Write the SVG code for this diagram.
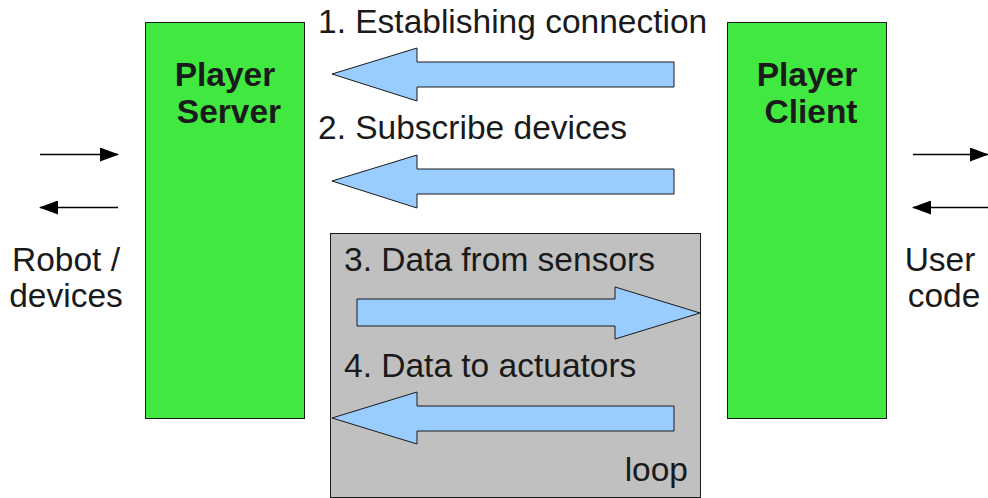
<svg xmlns="http://www.w3.org/2000/svg" width="988" height="498" viewBox="0 0 988 498">
<style>
.t{font-family:"Liberation Sans",Arial,sans-serif;font-size:33.5px;fill:#1a1a1a}
.b{font-weight:bold;text-anchor:middle}
.node{fill:#40e840;stroke:#1a1a1a;stroke-width:1}
.big{fill:#99ccff;stroke:#1a1a1a;stroke-width:1}
.ln{stroke:#000;stroke-width:1.3;fill:none}
</style>
<defs>
<marker id="ah" markerWidth="20" markerHeight="14" refX="18" refY="7" orient="auto" markerUnits="userSpaceOnUse">
<path d="M0,0 L19,7 L0,14 Z" fill="#000"/>
</marker>
</defs>
<rect x="0" y="0" width="988" height="498" fill="#fff"/>
<g id="loop-box">
<rect x="330.5" y="233.5" width="370" height="264" fill="#c0c0c0" stroke="#1a1a1a"/>
<text class="t" x="688" y="481" text-anchor="end">loop</text>
</g>
<g id="player-server">
<rect class="node" x="145.5" y="22.5" width="159" height="396"/>
<text class="t b" x="225" y="86">Player</text>
<text class="t b" x="229" y="123">Server</text>
</g>
<g id="player-client">
<rect class="node" x="727.5" y="22.5" width="159" height="396"/>
<text class="t b" x="807" y="86">Player</text>
<text class="t b" x="811" y="123">Client</text>
</g>
<g id="robot-devices">
<text class="t" x="66" y="271" text-anchor="middle">Robot /</text>
<text class="t" x="66" y="307" text-anchor="middle">devices</text>
</g>
<g id="user-code">
<text class="t" x="940" y="271" text-anchor="middle">User</text>
<text class="t" x="944" y="307" text-anchor="middle">code</text>
</g>
<g id="connectors">
<path class="big" d="M332,74 L417,48 L417,62 L674,62 L674,87 L417,87 L417,101 Z"/>
<text class="t" x="318" y="33">1. Establishing connection</text>
<path class="big" d="M332,181 L417,155 L417,169 L674,169 L674,194 L417,194 L417,208 Z"/>
<text class="t" x="318" y="139">2. Subscribe devices</text>
<path class="big" d="M700,313 L615,287 L615,299 L357,299 L357,326 L615,326 L615,339 Z"/>
<text class="t" x="344" y="271">3. Data from sensors</text>
<path class="big" d="M332,418 L417,392 L417,406 L674,406 L674,431 L417,431 L417,444 Z"/>
<text class="t" x="344" y="377">4. Data to actuators</text>
<line class="ln" x1="40" y1="154.5" x2="118" y2="154.5" marker-end="url(#ah)"/>
<line class="ln" x1="118" y1="207.5" x2="40" y2="207.5" marker-end="url(#ah)"/>
<line class="ln" x1="913" y1="154.5" x2="988" y2="154.5" marker-end="url(#ah)"/>
<line class="ln" x1="988" y1="207.5" x2="913" y2="207.5" marker-end="url(#ah)"/>
</g>
</svg>
